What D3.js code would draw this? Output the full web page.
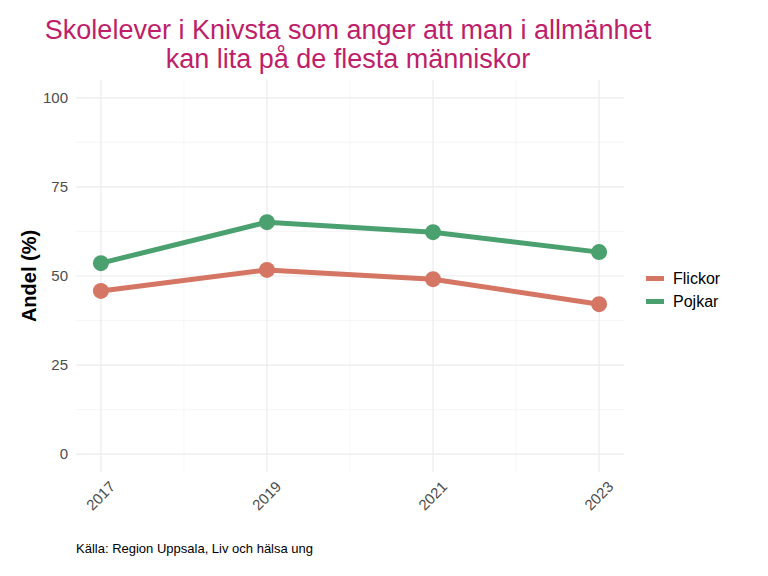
<!doctype html>
<html lang="sv">
<head>
    <meta charset="utf-8"/>
    <title>Skolelever i Knivsta</title>
    <script src="https://d3js.org/d3.v7.min.js"></script>
    <style>
        body {
            margin: 0;
            padding: 0;
            background: white;
        }

        text {
            font-family: "Liberation Sans", Arial, sans-serif;
        }
    </style>
</head>
<body>
<script>

    // data
    const years = [2017, 2019, 2021, 2023]
    const flickor = [45.8, 51.7, 49.1, 42.1]
    const pojkar = [53.6, 65.1, 62.3, 56.7]
    const seriesNames = ['Flickor', 'Pojkar']
    const seriesColors = ['#D57563', '#4AA06E']
    const yTicks = [0, 25, 50, 75, 100]

    const width = 768, height = 576
    const panel = {left: 76, right: 624, top: 80, bottom: 472}

    const svg = d3.select('body')
        .append('svg')
        .attr('width', width)
        .attr('height', height)

    // escalas con 5% de expansion como ggplot
    const x = d3.scaleLinear().domain([2017 - 0.3, 2023 + 0.3]).range([panel.left, panel.right])
    const y = d3.scaleLinear().domain([-5, 105]).range([panel.bottom, panel.top])

    // grilla menor
    svg.selectAll('.minx')
        .data([2018, 2020, 2022])
        .enter().append('line')
        .attr('x1', d => x(d)).attr('x2', d => x(d))
        .attr('y1', panel.top).attr('y2', panel.bottom)
        .attr('stroke', '#F2F2F2').attr('stroke-width', 0.7)
    svg.selectAll('.miny')
        .data([12.5, 37.5, 62.5, 87.5])
        .enter().append('line')
        .attr('x1', panel.left).attr('x2', panel.right)
        .attr('y1', d => y(d)).attr('y2', d => y(d))
        .attr('stroke', '#F2F2F2').attr('stroke-width', 0.7)

    // grilla mayor
    svg.selectAll('.majx')
        .data(years)
        .enter().append('line')
        .attr('x1', d => x(d)).attr('x2', d => x(d))
        .attr('y1', panel.top).attr('y2', panel.bottom)
        .attr('stroke', '#EBEBEB').attr('stroke-width', 1.2)
    svg.selectAll('.majy')
        .data(yTicks)
        .enter().append('line')
        .attr('x1', panel.left).attr('x2', panel.right)
        .attr('y1', d => y(d)).attr('y2', d => y(d))
        .attr('stroke', '#EBEBEB').attr('stroke-width', 1.2)

    // ejes
    const yAxis = svg.append('g')
        .attr('transform', `translate(${panel.left},0)`)
        .call(d3.axisLeft(y).tickValues(yTicks).tickSize(0).tickPadding(8))
    yAxis.select('.domain').remove()
    yAxis.selectAll('text')
        .attr('fill', '#4D4D4D')
        .style('font-size', '15px')

    const xAxis = svg.append('g')
        .attr('transform', `translate(0,${panel.bottom})`)
        .call(d3.axisBottom(x).tickValues(years).tickFormat(d3.format('d')).tickSize(0))
    xAxis.select('.domain').remove()
    xAxis.selectAll('text')
        .attr('fill', '#4D4D4D')
        .style('font-size', '15px')
        .attr('text-anchor', 'end')
        .attr('dy', '0.35em')
        .attr('transform', 'translate(11,12) rotate(-45)')
        .attr('y', 0)

    // lineas y puntos
    const series = [flickor, pojkar]
    const line = d3.line()
        .x((d, i) => x(years[i]))
        .y(d => y(d))

    series.forEach(function (vals, k) {
        svg.append('path')
            .datum(vals)
            .attr('d', line)
            .attr('fill', 'none')
            .attr('stroke', seriesColors[k])
            .attr('stroke-width', 5)
        svg.selectAll('.pt' + k)
            .data(vals)
            .enter().append('circle')
            .attr('cx', (d, i) => x(years[i]))
            .attr('cy', d => y(d))
            .attr('r', 8)
            .attr('fill', seriesColors[k])
    })

    // titulo
    const title = svg.append('text')
        .attr('x', 348)
        .attr('text-anchor', 'middle')
        .attr('fill', '#BE1E6A')
        .style('font-size', '27px')
    title.append('tspan').attr('x', 348).attr('y', 39).text('Skolelever i Knivsta som anger att man i allmänhet')
    title.append('tspan').attr('x', 348).attr('y', 68).text('kan lita på de flesta människor')

    // titulo eje y
    svg.append('text')
        .attr('transform', `translate(36,${(panel.top + panel.bottom) / 2}) rotate(-90)`)
        .attr('text-anchor', 'middle')
        .style('font-size', '20px')
        .style('font-weight', 'bold')
        .text('Andel (%)')

    // leyenda
    const legend = svg.selectAll('.leg')
        .data(seriesNames)
        .enter().append('g')
        .attr('transform', (d, i) => `translate(646,${278.5 + i * 23})`)
    legend.append('line')
        .attr('x1', 0).attr('x2', 18)
        .attr('stroke', (d, i) => seriesColors[i])
        .attr('stroke-width', 5)
    legend.append('text')
        .attr('x', 27)
        .attr('dy', '0.35em')
        .style('font-size', '16px')
        .text(d => d)

    // fuente
    svg.append('text')
        .attr('x', 76)
        .attr('y', 553)
        .style('font-size', '13px')
        .text('Källa: Region Uppsala, Liv och hälsa ung')

</script>
</body>
</html>
